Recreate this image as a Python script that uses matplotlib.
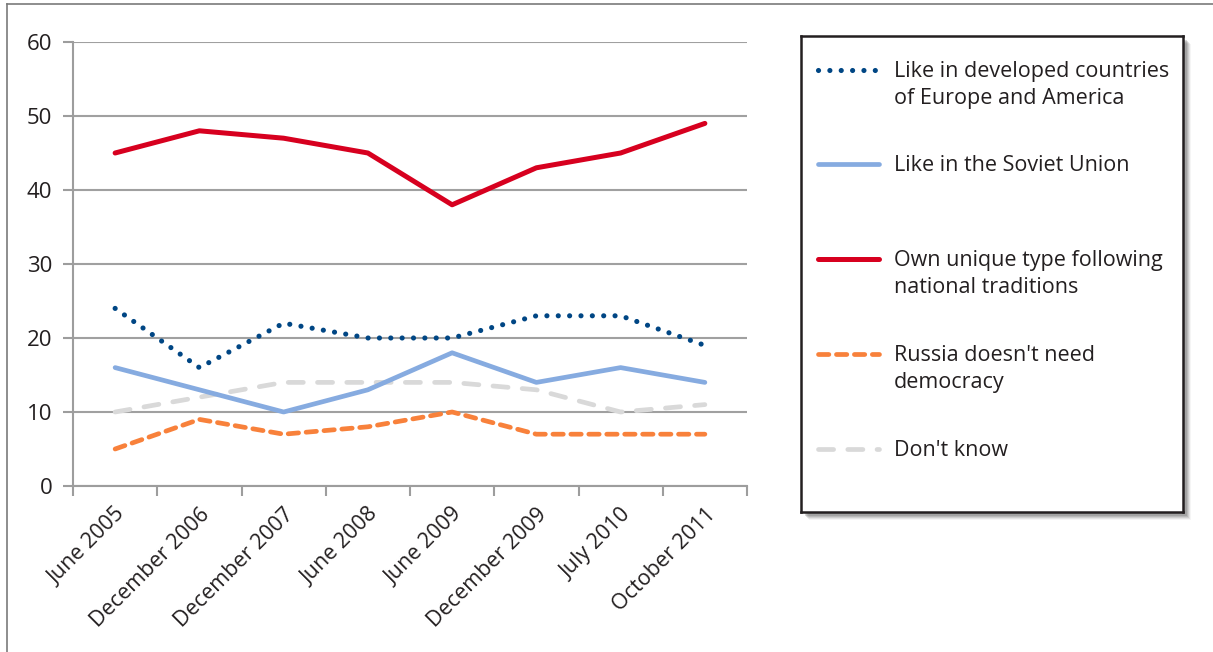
import matplotlib
matplotlib.use('Agg')
import matplotlib.pyplot as plt
from matplotlib.lines import Line2D
from matplotlib.patches import Rectangle

plt.rcParams['font.family'] = ['Open Sans', 'DejaVu Sans']

surveys = ['June 2005', 'December 2006', 'December 2007', 'June 2008',
           'June 2009', 'December 2009', 'July 2010', 'October 2011']
developed = [24, 16, 22, 20, 20, 23, 23, 19]
soviet = [16, 13, 10, 13, 18, 14, 16, 14]
own_type = [45, 48, 47, 45, 38, 43, 45, 49]
no_democracy = [5, 9, 7, 8, 10, 7, 7, 7]
dont_know = [10, 12, 14, 14, 14, 13, 10, 11]
y_ticks = [0, 10, 20, 30, 40, 50, 60]

labels = ['Like in developed countries\nof Europe and America',
          'Like in the Soviet Union',
          'Own unique type following\nnational traditions',
          "Russia doesn't need\ndemocracy",
          "Don't know"]

W, H = 1213, 652
fig = plt.figure(figsize=(W / 100, H / 100), dpi=100)
fig.patch.set_facecolor('white')

# outer frame (top and left edges visible)
fig.add_artist(Line2D([7 / W, 7 / W], [0, 1 - 4 / H], color='#7a7a7a', lw=1.2))
fig.add_artist(Line2D([7 / W, 1], [1 - 4 / H, 1 - 4 / H], color='#7a7a7a', lw=1.2))

ax = fig.add_axes([73 / W, 1 - 486 / H, 674 / W, 444 / H])

styles = [
    dict(color='#004684', lw=3.7, dashes=(0.01, 2.2), dash_capstyle='round'),
    dict(color='#86abe0', lw=3.4),
    dict(color='#d7001f', lw=3.6),
    dict(color='#f8813b', lw=3.4, dashes=(2.2, 1.6), dash_capstyle='round'),
    dict(color='#d9d9d9', lw=3.4, dashes=(3.2, 3.0), dash_capstyle='round'),
]
series = [developed, soviet, own_type, no_democracy, dont_know]

xs = [i + 0.5 for i in range(len(surveys))]
draw_order = [4, 3, 1, 0, 2]
for k in draw_order:
    ax.plot(xs, series[k], solid_capstyle='round', solid_joinstyle='round',
            zorder=3, **styles[k])

ax.set_xlim(0, len(surveys))
ax.set_ylim(0, 60)
ax.set_yticks(y_ticks)
ax.set_xticks(range(len(surveys) + 1))
ax.set_xticklabels([])
ax.set_xticks(xs, minor=True)
ax.set_xticklabels(surveys, minor=True, rotation=45, ha='right', va='top',
                   rotation_mode='anchor', fontsize=15.5, color='#231f20')
ax.tick_params(axis='x', which='minor', length=0, pad=13)
ax.tick_params(axis='x', which='major', length=7, width=1.5, color='#9d9d9d')
ax.tick_params(axis='y', length=7, width=1.5, color='#9d9d9d',
               labelsize=16, labelcolor='#231f20', pad=8)
ax.grid(axis='y', color='#a0a0a0', lw=1.5)
ax.set_axisbelow(True)
for s in ['top', 'right']:
    ax.spines[s].set_visible(False)
for s in ['left', 'bottom']:
    ax.spines[s].set_color('#9d9d9d')
    ax.spines[s].set_linewidth(1.5)

# legend box with shadow
lx, ly, lw_, lh = 801, 36, 382, 476
for off, a in [(8, 0.06), (7, 0.10), (6, 0.14), (5, 0.18), (4, 0.22)]:
    fig.add_artist(Rectangle(((lx + off) / W, 1 - (ly + lh + off) / H),
                             lw_ / W, lh / H, facecolor='#555555',
                             edgecolor='none', alpha=a, zorder=1))
lax = fig.add_axes([lx / W, 1 - (ly + lh) / H, lw_ / W, lh / H], zorder=5)
lax.set_xlim(0, lw_)
lax.set_ylim(lh, 0)
lax.set_xticks([])
lax.set_yticks([])
for s in lax.spines.values():
    s.set_color('#231f20')
    s.set_linewidth(1.8)

row_y = [34, 128, 223, 318, 413]
for k in range(len(labels)):
    lax.add_line(Line2D([17, 78], [row_y[k], row_y[k]],
                        solid_capstyle='round', **styles[k]))
    lax.text(93, row_y[k] - 9, labels[k], fontsize=15.5, color='#231f20',
             va='top', ha='left', linespacing=1.4)

fig.savefig('out.png', dpi=100)
